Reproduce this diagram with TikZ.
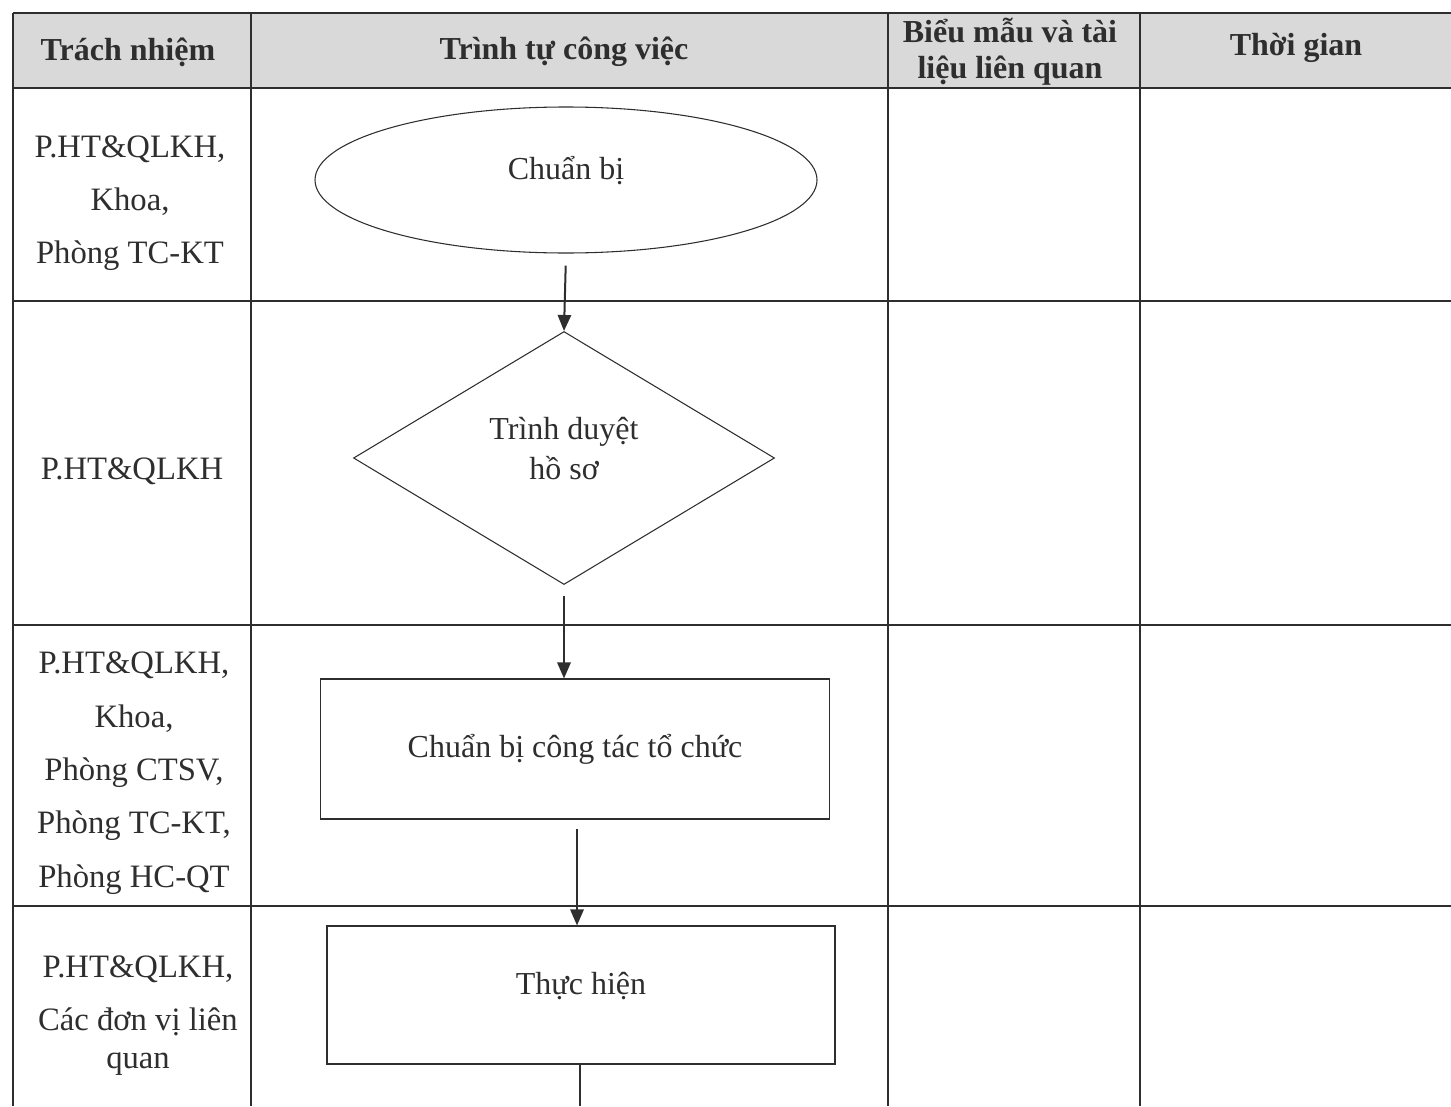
\documentclass[tikz,border=0pt]{standalone}
\usepackage{fontspec}
\setmainfont{Liberation Serif}
\usetikzlibrary{shapes.geometric,arrows.meta}
\definecolor{ink}{HTML}{2E2E2E}
\definecolor{hdr}{HTML}{D9D9D9}
\begin{document}
\begin{tikzpicture}[x=0.75pt,y=-0.75pt,
  grid/.style={line width=1.3pt,draw=ink},
  shp/.style={draw=ink,line width=0.8pt,inner sep=0pt,font=\fontsize{24}{30}\selectfont,text=ink,align=center},
  arr/.style={draw=ink,line width=1.5pt,-{Triangle[length=12pt,width=10pt]}},
  hd/.style={font=\fontsize{24}{27}\selectfont\bfseries,text=ink,align=center},
  cell/.style={font=\fontsize{24.5}{40}\selectfont,text=ink,align=center}]
\useasboundingbox (0,0) rectangle (1451,1106);
% header background
\fill[hdr] (13,13) rectangle (1451,88);
% grid
\draw[grid] (13,13) -- (1451,13);
\draw[grid] (13,88) -- (1451,88);
\draw[grid] (13,301) -- (1451,301);
\draw[grid] (13,625) -- (1451,625);
\draw[grid] (13,906) -- (1451,906);
\draw[grid] (13,13) -- (13,1106);
\draw[grid] (251,13) -- (251,1106);
\draw[grid] (888,13) -- (888,1106);
\draw[grid] (1140,13) -- (1140,1106);
% header texts
\node[hd] (h1) at (128,52) {Trách nhiệm};
\node[hd] (h2) at (564,52) {Trình tự công việc};
\node[hd] (h3) at (1010,52) {Biểu mẫu và tài\\liệu liên quan};
\node[hd] (h4) at (1296,48) {Thời gian};
% responsibility column
\node[cell] (r1) at (130,203) {P.HT\&QLKH,\\Khoa,\\Phòng TC-KT};
\node[cell] (r2) at (132,471) {P.HT\&QLKH};
\node[cell] (r3) at (134,773) {P.HT\&QLKH,\\Khoa,\\Phòng CTSV,\\Phòng TC-KT,\\Phòng HC-QT};
\node[cell] (r4a) at (138,996) {P.HT\&QLKH,\\Các đơn vị liên};
\node[cell] (r4b) at (138,1064) {quan};
% flowchart
\node[shp,ellipse,minimum width=376.5pt,minimum height=109.5pt,text depth=18pt] (ell) at (566,180) {Chuẩn bị};
\node[shp,diamond,aspect=1.66,minimum width=315.75pt,minimum height=189.75pt,text depth=14pt] (dia) at (564,458) {Trình duyệt\\hồ sơ};
\node[shp,rectangle,minimum width=381.75pt,minimum height=105pt] (bx1) at (575,749) {Chuẩn bị công tác tổ chức};
\node[shp,rectangle,minimum width=381pt,minimum height=103.5pt,text depth=18pt] (bx2) at (581,995) {Thực hiện};
\coordinate (end) at (580,1106);
\draw[arr,shorten <=9pt] (ell.south) -- (dia.north);
\draw[arr,shorten <=8pt] (dia.south) -- (dia.south |- bx1.north);
\draw[arr,shorten <=7pt] ([xshift=1.5pt]bx1.south) -- ([xshift=1.5pt]bx1.south |- bx2.north);
\draw[draw=ink,line width=1.5pt] (bx2.south -| end) -- (end);
\end{tikzpicture}
\end{document}
